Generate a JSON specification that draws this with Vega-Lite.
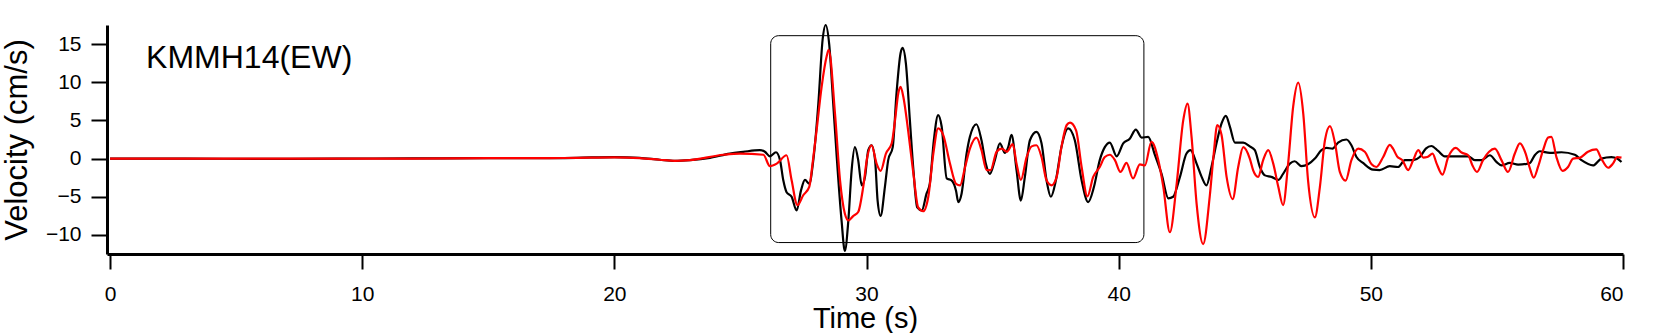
{
  "$schema": "https://vega.github.io/schema/vega-lite/v6.json",
  "autosize": {"type": "none"},
  "padding": {"left": 107, "top": 25, "right": 49, "bottom": 79},
  "width": 1516,
  "height": 229,
  "background": "white",
  "config": {"view": {"stroke": null}, "font": "Liberation Sans"},
  "data": {"values": [
    {"s":"box","t":26.2,"t2":41.0,"v":-11.0,"v2":16.1},
    {"s":"label","t":1.43,"v":11.9,"txt":"KMMH14(EW)"},
    {"s":"K","t":0,"v":0},{"s":"K","t":3,"v":0},{"s":"K","t":6,"v":-0.05},{"s":"K","t":9,"v":0},{"s":"K","t":12,"v":0.02},{"s":"K","t":15,"v":0.05},{"s":"K","t":17,"v":0.05},{"s":"K","t":18.5,"v":0.1},{"s":"K","t":20,"v":0.2},{"s":"K","t":21,"v":0.1},{"s":"K","t":21.8,"v":-0.15},{"s":"K","t":22.4,"v":-0.3},{"s":"K","t":23.0,"v":-0.2},{"s":"K","t":23.79,"v":0.1},{"s":"K","t":24.58,"v":0.66},{"s":"K","t":25.11,"v":0.88},{"s":"K","t":25.77,"v":1.1},{"s":"K","t":25.97,"v":0.9},{"s":"K","t":26.17,"v":0.3},{"s":"K","t":26.41,"v":0.83},{"s":"K","t":26.57,"v":-0.2},{"s":"K","t":26.70,"v":-2.85},{"s":"K","t":26.83,"v":-4.4},{"s":"K","t":27.03,"v":-5.0},{"s":"K","t":27.23,"v":-6.8},{"s":"K","t":27.40,"v":-4.2},{"s":"K","t":27.56,"v":-2.8},{"s":"K","t":27.73,"v":-3.3},{"s":"K","t":27.89,"v":-0.2},{"s":"K","t":28.09,"v":7.2},{"s":"K","t":28.26,"v":15.6},{"s":"K","t":28.38,"v":17.5},{"s":"K","t":28.52,"v":15.0},{"s":"K","t":28.68,"v":7.2},{"s":"K","t":28.81,"v":0.66},{"s":"K","t":29.01,"v":-8.1},{"s":"K","t":29.14,"v":-12.1},{"s":"K","t":29.28,"v":-8.1},{"s":"K","t":29.41,"v":-1.5},{"s":"K","t":29.54,"v":1.5},{"s":"K","t":29.67,"v":-0.2},{"s":"K","t":29.81,"v":-3.5},{"s":"K","t":29.94,"v":-2.4},{"s":"K","t":30.07,"v":1.1},{"s":"K","t":30.20,"v":1.75},{"s":"K","t":30.34,"v":-0.2},{"s":"K","t":30.44,"v":-5.5},{"s":"K","t":30.56,"v":-7.5},{"s":"K","t":30.73,"v":-3.7},{"s":"K","t":30.86,"v":-0.2},{"s":"K","t":31.04,"v":1.5},{"s":"K","t":31.19,"v":8.55},{"s":"K","t":31.35,"v":13.8},{"s":"K","t":31.43,"v":14.5},{"s":"K","t":31.56,"v":12.5},{"s":"K","t":31.72,"v":5.0},{"s":"K","t":31.86,"v":-1.5},{"s":"K","t":32.01,"v":-6.4},{"s":"K","t":32.19,"v":-6.8},{"s":"K","t":32.38,"v":-4.6},{"s":"K","t":32.51,"v":-3.3},{"s":"K","t":32.67,"v":2.4},{"s":"K","t":32.84,"v":5.7},{"s":"K","t":32.98,"v":4.2},{"s":"K","t":33.18,"v":-2.6},{"s":"K","t":33.37,"v":-2.85},{"s":"K","t":33.55,"v":-4.2},{"s":"K","t":33.64,"v":-5.7},{"s":"K","t":33.77,"v":-4.6},{"s":"K","t":33.97,"v":0.66},{"s":"K","t":34.1,"v":2.85},{"s":"K","t":34.36,"v":4.5},{"s":"K","t":34.56,"v":2.4},{"s":"K","t":34.73,"v":-0.66},{"s":"K","t":34.89,"v":-2.0},{"s":"K","t":35.09,"v":-0.2},{"s":"K","t":35.29,"v":2.0},{"s":"K","t":35.49,"v":0.75},{"s":"K","t":35.62,"v":1.5},{"s":"K","t":35.75,"v":3.1},{"s":"K","t":35.95,"v":-1.5},{"s":"K","t":36.12,"v":-5.5},{"s":"K","t":36.28,"v":-2.4},{"s":"K","t":36.48,"v":2.4},{"s":"K","t":36.74,"v":3.5},{"s":"K","t":36.94,"v":2.0},{"s":"K","t":37.14,"v":-2.85},{"s":"K","t":37.31,"v":-5.0},{"s":"K","t":37.51,"v":-2.85},{"s":"K","t":37.73,"v":1.5},{"s":"K","t":38.0,"v":3.95},{"s":"K","t":38.26,"v":2.4},{"s":"K","t":38.53,"v":-2.85},{"s":"K","t":38.79,"v":-5.7},{"s":"K","t":39.02,"v":-3.7},{"s":"K","t":39.25,"v":-0.2},{"s":"K","t":39.45,"v":1.5},{"s":"K","t":39.65,"v":2.1},{"s":"K","t":39.92,"v":0.3},{"s":"K","t":40.18,"v":2.0},{"s":"K","t":40.44,"v":2.6},{"s":"K","t":40.68,"v":3.8},{"s":"K","t":40.91,"v":2.75},{"s":"K","t":41.17,"v":2.85},{"s":"K","t":41.44,"v":0.44},{"s":"K","t":41.70,"v":-2.0},{"s":"K","t":41.97,"v":-5.2},{"s":"K","t":42.16,"v":-5.0},{"s":"K","t":42.43,"v":-2.4},{"s":"K","t":42.69,"v":0.66},{"s":"K","t":42.85,"v":1.1},{"s":"K","t":43.09,"v":-0.66},{"s":"K","t":43.29,"v":-2.4},{"s":"K","t":43.48,"v":-3.5},{"s":"K","t":43.68,"v":-1.1},{"s":"K","t":43.88,"v":2.0},{"s":"K","t":44.08,"v":4.6},{"s":"K","t":44.25,"v":5.6},{"s":"K","t":44.41,"v":4.2},{"s":"K","t":44.61,"v":2.1},{"s":"K","t":44.94,"v":2.1},{"s":"K","t":45.2,"v":1.6},{"s":"K","t":45.40,"v":1.1},{"s":"K","t":45.60,"v":-1.1},{"s":"K","t":45.80,"v":-2.2},{"s":"K","t":46.06,"v":-2.4},{"s":"K","t":46.33,"v":-2.8},{"s":"K","t":46.52,"v":-2.0},{"s":"K","t":46.79,"v":-0.66},{"s":"K","t":46.98,"v":-0.35},{"s":"K","t":47.25,"v":-1.0},{"s":"K","t":47.51,"v":-0.75},{"s":"K","t":47.78,"v":0.0},{"s":"K","t":48.04,"v":1.1},{"s":"K","t":48.24,"v":1.4},{"s":"K","t":48.48,"v":1.3},{"s":"K","t":48.70,"v":2.1},{"s":"K","t":49.03,"v":2.5},{"s":"K","t":49.23,"v":1.75},{"s":"K","t":49.43,"v":0.2},{"s":"K","t":49.69,"v":-0.57},{"s":"K","t":50.09,"v":-1.45},{"s":"K","t":50.35,"v":-1.5},{"s":"K","t":50.75,"v":-1.0},{"s":"K","t":51.08,"v":-1.1},{"s":"K","t":51.35,"v":-0.2},{"s":"K","t":51.68,"v":-0.2},{"s":"K","t":51.94,"v":0.2},{"s":"K","t":52.18,"v":1.3},{"s":"K","t":52.40,"v":1.65},{"s":"K","t":52.67,"v":1.0},{"s":"K","t":52.93,"v":0.3},{"s":"K","t":53.39,"v":0.3},{"s":"K","t":53.86,"v":0.3},{"s":"K","t":54.12,"v":-0.2},{"s":"K","t":54.39,"v":-0.2},{"s":"K","t":54.72,"v":0.44},{"s":"K","t":54.98,"v":-0.44},{"s":"K","t":55.18,"v":-0.9},{"s":"K","t":55.51,"v":-0.57},{"s":"K","t":55.84,"v":-0.8},{"s":"K","t":56.3,"v":-0.6},{"s":"K","t":56.5,"v":0.44},{"s":"K","t":56.70,"v":0.96},{"s":"K","t":57.10,"v":0.75},{"s":"K","t":57.56,"v":0.83},{"s":"K","t":58.09,"v":0.5},{"s":"K","t":58.35,"v":-0.2},{"s":"K","t":58.81,"v":-0.9},{"s":"K","t":59.14,"v":0.0},{"s":"K","t":59.54,"v":0.2},{"s":"K","t":59.77,"v":0.0},{"s":"K","t":59.94,"v":-0.44},
    {"s":"R","t":0,"v":0},{"s":"R","t":3,"v":0},{"s":"R","t":6,"v":0},{"s":"R","t":9,"v":0},{"s":"R","t":12,"v":0},{"s":"R","t":15,"v":0.05},{"s":"R","t":17,"v":0.05},{"s":"R","t":18.5,"v":0.1},{"s":"R","t":20,"v":0.15},{"s":"R","t":21,"v":0.05},{"s":"R","t":21.8,"v":-0.15},{"s":"R","t":22.4,"v":-0.3},{"s":"R","t":23.0,"v":-0.2},{"s":"R","t":24.32,"v":0.5},{"s":"R","t":24.98,"v":0.66},{"s":"R","t":25.91,"v":0.5},{"s":"R","t":26.17,"v":-1.0},{"s":"R","t":26.44,"v":-0.66},{"s":"R","t":26.83,"v":0.44},{"s":"R","t":27.03,"v":-2.85},{"s":"R","t":27.26,"v":-6.1},{"s":"R","t":27.49,"v":-4.8},{"s":"R","t":27.73,"v":-3.7},{"s":"R","t":27.86,"v":-0.66},{"s":"R","t":28.02,"v":3.7},{"s":"R","t":28.22,"v":9.4},{"s":"R","t":28.42,"v":13.4},{"s":"R","t":28.5,"v":14.25},{"s":"R","t":28.75,"v":5.9},{"s":"R","t":28.95,"v":-2.85},{"s":"R","t":29.14,"v":-7.2},{"s":"R","t":29.28,"v":-8.1},{"s":"R","t":29.48,"v":-7.5},{"s":"R","t":29.67,"v":-7.0},{"s":"R","t":29.87,"v":-3.7},{"s":"R","t":30.03,"v":0.2},{"s":"R","t":30.20,"v":1.75},{"s":"R","t":30.40,"v":-0.66},{"s":"R","t":30.56,"v":-1.6},{"s":"R","t":30.77,"v":0.66},{"s":"R","t":31.0,"v":2.0},{"s":"R","t":31.13,"v":5.0},{"s":"R","t":31.26,"v":8.55},{"s":"R","t":31.35,"v":9.4},{"s":"R","t":31.46,"v":8.1},{"s":"R","t":31.65,"v":3.7},{"s":"R","t":31.86,"v":-2.0},{"s":"R","t":32.05,"v":-6.4},{"s":"R","t":32.25,"v":-6.9},{"s":"R","t":32.45,"v":-5.0},{"s":"R","t":32.65,"v":0.66},{"s":"R","t":32.84,"v":3.95},{"s":"R","t":33.04,"v":3.1},{"s":"R","t":33.31,"v":-0.66},{"s":"R","t":33.55,"v":-3.3},{"s":"R","t":33.71,"v":-3.5},{"s":"R","t":33.91,"v":-1.1},{"s":"R","t":34.1,"v":1.3},{"s":"R","t":34.36,"v":2.75},{"s":"R","t":34.56,"v":1.1},{"s":"R","t":34.76,"v":-1.5},{"s":"R","t":34.92,"v":-1.5},{"s":"R","t":35.16,"v":0.9},{"s":"R","t":35.36,"v":1.3},{"s":"R","t":35.56,"v":0.9},{"s":"R","t":35.80,"v":1.9},{"s":"R","t":35.95,"v":-0.66},{"s":"R","t":36.12,"v":-2.8},{"s":"R","t":36.35,"v":0.2},{"s":"R","t":36.55,"v":1.6},{"s":"R","t":36.74,"v":1.75},{"s":"R","t":36.94,"v":0.2},{"s":"R","t":37.14,"v":-2.85},{"s":"R","t":37.34,"v":-3.5},{"s":"R","t":37.54,"v":-2.4},{"s":"R","t":37.73,"v":1.5},{"s":"R","t":37.94,"v":4.4},{"s":"R","t":38.07,"v":4.7},{"s":"R","t":38.31,"v":3.7},{"s":"R","t":38.53,"v":-1.1},{"s":"R","t":38.76,"v":-4.95},{"s":"R","t":38.99,"v":-2.4},{"s":"R","t":39.25,"v":-1.1},{"s":"R","t":39.45,"v":0.2},{"s":"R","t":39.65,"v":0.5},{"s":"R","t":39.85,"v":-0.2},{"s":"R","t":40.07,"v":-1.75},{"s":"R","t":40.31,"v":-0.57},{"s":"R","t":40.57,"v":-2.6},{"s":"R","t":40.84,"v":-0.75},{"s":"R","t":41.04,"v":-0.9},{"s":"R","t":41.30,"v":2.2},{"s":"R","t":41.57,"v":-0.2},{"s":"R","t":41.77,"v":-3.7},{"s":"R","t":42.03,"v":-9.65},{"s":"R","t":42.30,"v":-3.3},{"s":"R","t":42.56,"v":5.0},{"s":"R","t":42.73,"v":7.2},{"s":"R","t":42.89,"v":2.85},{"s":"R","t":43.09,"v":-5.9},{"s":"R","t":43.35,"v":-11.2},{"s":"R","t":43.61,"v":-5.0},{"s":"R","t":43.77,"v":0.66},{"s":"R","t":43.91,"v":4.4},{"s":"R","t":44.08,"v":3.1},{"s":"R","t":44.28,"v":-2.4},{"s":"R","t":44.52,"v":-5.3},{"s":"R","t":44.74,"v":-1.1},{"s":"R","t":44.94,"v":1.5},{"s":"R","t":45.2,"v":0.0},{"s":"R","t":45.33,"v":-1.5},{"s":"R","t":45.53,"v":-2.4},{"s":"R","t":45.73,"v":-0.2},{"s":"R","t":45.93,"v":1.1},{"s":"R","t":46.13,"v":-0.66},{"s":"R","t":46.33,"v":-3.7},{"s":"R","t":46.52,"v":-6.1},{"s":"R","t":46.72,"v":-0.66},{"s":"R","t":46.92,"v":6.8},{"s":"R","t":47.12,"v":9.95},{"s":"R","t":47.32,"v":5.9},{"s":"R","t":47.51,"v":-2.85},{"s":"R","t":47.78,"v":-7.7},{"s":"R","t":47.98,"v":-3.7},{"s":"R","t":48.18,"v":2.4},{"s":"R","t":48.38,"v":4.25},{"s":"R","t":48.58,"v":2.0},{"s":"R","t":48.77,"v":-1.75},{"s":"R","t":49.0,"v":-2.9},{"s":"R","t":49.23,"v":-0.2},{"s":"R","t":49.50,"v":1.3},{"s":"R","t":49.76,"v":0.9},{"s":"R","t":50.03,"v":-0.75},{"s":"R","t":50.22,"v":-1.1},{"s":"R","t":50.49,"v":0.2},{"s":"R","t":50.75,"v":1.8},{"s":"R","t":50.88,"v":1.3},{"s":"R","t":51.04,"v":0.3},{"s":"R","t":51.25,"v":-0.2},{"s":"R","t":51.48,"v":-1.5},{"s":"R","t":51.68,"v":-0.2},{"s":"R","t":51.88,"v":1.1},{"s":"R","t":52.08,"v":0.13},{"s":"R","t":52.24,"v":0.2},{"s":"R","t":52.45,"v":0.66},{"s":"R","t":52.61,"v":-0.66},{"s":"R","t":52.84,"v":-2.1},{"s":"R","t":53.07,"v":0.2},{"s":"R","t":53.37,"v":1.4},{"s":"R","t":53.60,"v":0.8},{"s":"R","t":53.86,"v":0.44},{"s":"R","t":54.03,"v":-0.9},{"s":"R","t":54.21,"v":-1.75},{"s":"R","t":54.45,"v":-0.2},{"s":"R","t":54.69,"v":0.9},{"s":"R","t":54.92,"v":1.3},{"s":"R","t":55.18,"v":-0.2},{"s":"R","t":55.44,"v":-1.75},{"s":"R","t":55.71,"v":0.66},{"s":"R","t":55.91,"v":2.0},{"s":"R","t":56.14,"v":0.66},{"s":"R","t":56.3,"v":-1.2},{"s":"R","t":56.46,"v":-2.5},{"s":"R","t":56.63,"v":-1.1},{"s":"R","t":56.83,"v":1.1},{"s":"R","t":57.03,"v":2.75},{"s":"R","t":57.16,"v":2.85},{"s":"R","t":57.36,"v":0.2},{"s":"R","t":57.60,"v":-1.6},{"s":"R","t":57.82,"v":-1.1},{"s":"R","t":58.02,"v":0.0},{"s":"R","t":58.28,"v":0.1},{"s":"R","t":58.61,"v":0.9},{"s":"R","t":58.94,"v":1.2},{"s":"R","t":59.14,"v":0.0},{"s":"R","t":59.41,"v":-1.2},{"s":"R","t":59.60,"v":-0.66},{"s":"R","t":59.77,"v":0.2},{"s":"R","t":59.94,"v":0.13}
  ]},
  "encoding": {
    "x": {"field": "t", "type": "quantitative",
      "scale": {"domain": [-0.12, 60], "nice": false, "zero": false},
      "axis": {"title": "Time (s)", "values": [0,10,20,30,40,50,60], "grid": false,
        "domainWidth": 3, "domainColor": "black", "tickWidth": 2, "tickSize": 15, "tickColor": "black",
        "labelFontSize": 21, "labelPadding": 14, "labelColor": "black", "labelFont": "Liberation Sans",
        "titleFontSize": 29, "titleFontWeight": "normal", "titlePadding": 0, "titleColor": "black", "titleFont": "Liberation Sans"}},
    "y": {"field": "v", "type": "quantitative",
      "scale": {"domain": [-12.5, 17.5], "nice": false, "zero": false},
      "axis": {"title": "Velocity (cm/s)", "values": [-10,-5,0,5,10,15], "grid": false,
        "domainWidth": 3, "domainColor": "black", "tickWidth": 2, "tickSize": 16, "tickColor": "black",
        "labelFontSize": 21, "labelPadding": 10, "labelColor": "black", "labelFont": "Liberation Sans",
        "titleFontSize": 31, "titleFontWeight": "normal", "titlePadding": 12, "titleColor": "black", "titleFont": "Liberation Sans"}}
  },
  "layer": [
    {"transform": [{"filter": "datum.s === 'box'"}],
     "mark": {"type": "rect", "filled": false, "stroke": "black", "strokeWidth": 1, "cornerRadius": 8},
     "encoding": {"x2": {"field": "t2"}, "y2": {"field": "v2"}}},
    {"transform": [{"filter": "datum.s === 'K'"}],
     "mark": {"type": "line", "color": "black", "strokeWidth": 2.2, "interpolate": "monotone"}},
    {"transform": [{"filter": "datum.s === 'R'"}],
     "mark": {"type": "line", "color": "#ff0000", "strokeWidth": 2.2, "interpolate": "monotone"}},
    {"transform": [{"filter": "datum.s === 'label'"}],
     "mark": {"type": "text", "align": "left", "baseline": "alphabetic", "fontSize": 32, "font": "Liberation Sans", "color": "black"},
     "encoding": {"text": {"field": "txt"}}}
  ]
}
